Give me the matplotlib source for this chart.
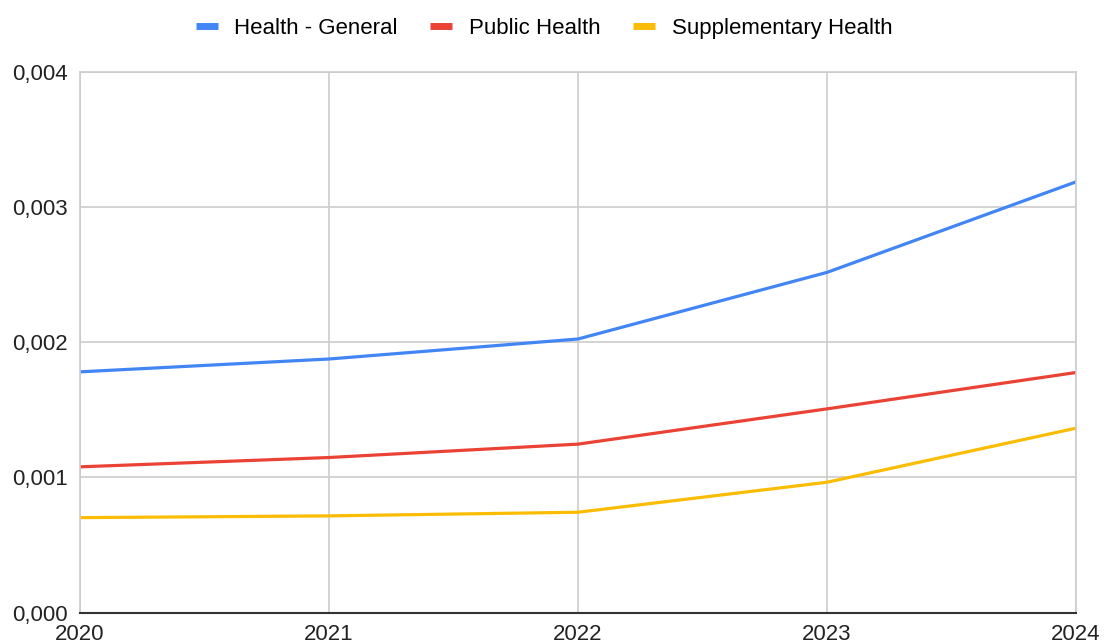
import numpy as np
from matplotlib import pyplot as plt
from matplotlib.ticker import FuncFormatter

# Yearly values per series
years = [2020, 2021, 2022, 2023, 2024]
health_general = [0.001781, 0.001876, 0.002024, 0.002517, 0.003187]
public_health = [0.001078, 0.001147, 0.001246, 0.001507, 0.001776]
supplementary_health = [0.000702, 0.000715, 0.000742, 0.000964, 0.001364]

series_names = ['Health - General', 'Public Health', 'Supplementary Health']
colors = ['#4285F4', '#EA4335', '#FBBC04']

plt.rcParams['font.family'] = ['Liberation Sans', 'DejaVu Sans']

fig = plt.figure(figsize=(11.05, 6.43), dpi=100)
ax = fig.add_axes([80 / 1105, (643 - 612.5) / 643, (1076 - 80) / 1105, (612.5 - 72) / 643])

lines = []
for vals, name, c in zip([health_general, public_health, supplementary_health], series_names, colors):
    ln, = ax.plot(years, vals, color=c, lw=2.3, label=name, solid_capstyle='round')
    lines.append(ln)

ax.set_xlim(2020, 2024)
ax.set_ylim(0, 0.004)
ax.set_xticks(years)
ax.set_yticks([0, 0.001, 0.002, 0.003, 0.004])
ax.yaxis.set_major_formatter(FuncFormatter(lambda v, p: f'{v:.3f}'.replace('.', ',')))
ax.grid(True, color='#cccccc', lw=1.2)
ax.set_axisbelow(True)

for side in ['top', 'right', 'left']:
    ax.spines[side].set_color('#cccccc')
    ax.spines[side].set_linewidth(1.2)
ax.spines['bottom'].set_color('#333333')
ax.spines['bottom'].set_linewidth(1.5)

ax.tick_params(axis='both', length=0, labelsize=16, colors='#222222')
ax.tick_params(axis='y', pad=9)
ax.tick_params(axis='x', pad=8)

fig.legend(lines, series_names, loc='upper center', bbox_to_anchor=(0.4923, 1.0),
           ncol=3, frameon=False, fontsize=16, handlelength=1.0, handleheight=0.6,
           columnspacing=1.45, handletextpad=0.75, borderaxespad=0.4)
for h in fig.legends[0].legend_handles:
    h.set_linewidth(5)
    h.set_solid_capstyle('butt')

fig.savefig('out.png', dpi=100)
